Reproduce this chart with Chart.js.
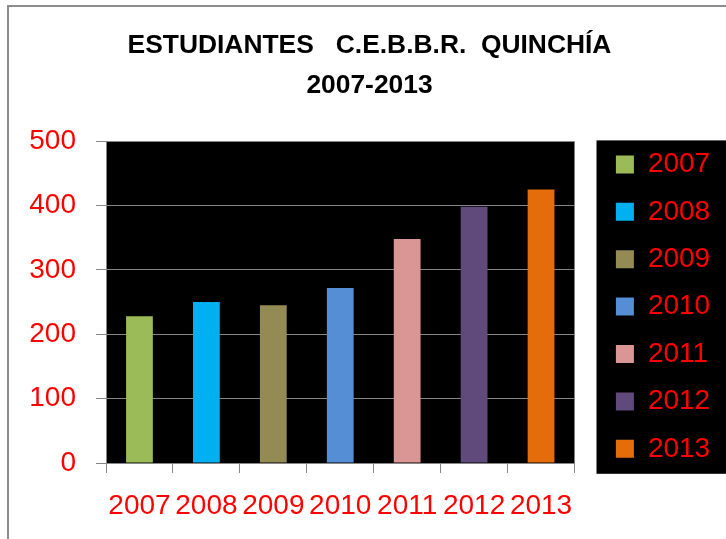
<!DOCTYPE html>
<html>
<head>
<meta charset="utf-8">
<script src="https://cdn.jsdelivr.net/npm/chart.js@4"></script>
<style>
    html, body { margin: 0; padding: 0; background: #fff; overflow: hidden; }
    .frame { position: absolute; left: 7px; top: 5px; width: 800px; height: 600px; border-left: 2px solid #8c8c8c; border-top: 2px solid #8c8c8c; }
    .wrap { position: absolute; left: 0; top: 0; width: 726px; height: 539px; }
</style>
</head>
<body>
<div class="frame"></div>
<div class="wrap"><canvas id="chart"></canvas></div>
<script>
// Data
const years = ['2007', '2008', '2009', '2010', '2011', '2012', '2013']
const students = [228, 250, 245, 272, 348, 398, 425]
const barColors = ['#9BBB59', '#00B0F0', '#948A54', '#558ED5', '#D99694', '#604A7B', '#E46C0A']
const yTicks = [0, 100, 200, 300, 400, 500]
const titleLines = ['ESTUDIANTES   C.E.B.B.R.  QUINCHÍA', '2007-2013']

const labelFont = { family: "'Liberation Sans', Arial, sans-serif", size: 28 }
const gridGray = '#868686'

// black plot area + black legend box
const blackBg = {
    id: 'blackBg',
    beforeDraw: (chart) => {
        const { ctx, chartArea, legend } = chart
        const boxes = legend.legendHitBoxes
        const first = boxes[0]
        const last = boxes[boxes.length - 1]

        ctx.save()
        ctx.fillStyle = '#000'
        ctx.fillRect(chartArea.left, chartArea.top, chartArea.right - chartArea.left, chartArea.bottom - chartArea.top)

        // legend background
        const top = first.top - 10
        const bottom = last.top + last.height + 11
        ctx.fillRect(legend.left, top, chart.width - legend.left, bottom - top)
        ctx.restore()
    }
}

const createChart = () => {
    const ctx = document.getElementById('chart')

    new Chart(ctx, {
        type: 'bar',
        data: {
            labels: years,
            datasets: [{
                data: students,
                backgroundColor: barColors,
                borderWidth: 0,
                barPercentage: 0.5,
                categoryPercentage: 0.8
            }]
        },
        options: {
            responsive: true,
            maintainAspectRatio: false,
            animation: false,
            layout: { padding: { left: 29, right: 16, top: 0, bottom: 16 } },
            plugins: {
                tooltip: { enabled: false },
                title: {
                    display: true,
                    text: titleLines,
                    color: '#000',
                    font: { family: "'Liberation Sans', Arial, sans-serif", size: 26.4, weight: 'bold', lineHeight: 1.5 },
                    padding: { top: 26, bottom: 36 }
                },
                legend: {
                    position: 'right',
                    align: 'start',
                    // blank title only pushes the items down
                    title: { display: true, text: ' ', font: { size: 10, lineHeight: 1.2 }, padding: { top: 119, bottom: 0 } },
                    labels: {
                        font: labelFont,
                        color: '#ff0000',
                        boxWidth: 18,
                        boxHeight: 18,
                        padding: 19.4,
                        generateLabels: (chart) => years.map((y, i) => ({
                            text: y,
                            fillStyle: barColors[i],
                            strokeStyle: barColors[i],
                            lineWidth: 0,
                            fontColor: '#ff0000',
                            index: i
                        }))
                    },
                    onClick: () => {}
                }
            },
            scales: {
                x: {
                    grid: { offset: true, drawOnChartArea: false, color: gridGray, tickLength: 10, tickColor: gridGray },
                    border: { color: gridGray },
                    ticks: { color: '#ff0000', font: labelFont, padding: 16, maxRotation: 0, autoSkip: false },
                    afterFit: (axis) => {
                        axis.height = 60
                        axis.paddingLeft = 0
                        axis.paddingRight = 0
                    }
                },
                y: {
                    min: 0,
                    max: 500,
                    afterBuildTicks: (axis) => { axis.ticks = yTicks.map(v => ({ value: v })) },
                    grid: { color: gridGray, tickLength: 10, tickColor: gridGray },
                    border: { color: gridGray },
                    ticks: { color: '#ff0000', font: labelFont, padding: 20 },
                    afterFit: (axis) => {
                        axis.width = 77
                        axis.paddingTop = 0
                        axis.paddingBottom = 0
                    }
                },
                // spacer between plot and legend
                gap: {
                    type: 'linear',
                    position: 'right',
                    display: true,
                    grid: { display: false },
                    border: { display: false },
                    ticks: { display: false },
                    afterFit: (axis) => { axis.width = 22 }
                }
            }
        },
        plugins: [blackBg]
    })
}

// Show Chart
createChart()
</script>
</body>
</html>
